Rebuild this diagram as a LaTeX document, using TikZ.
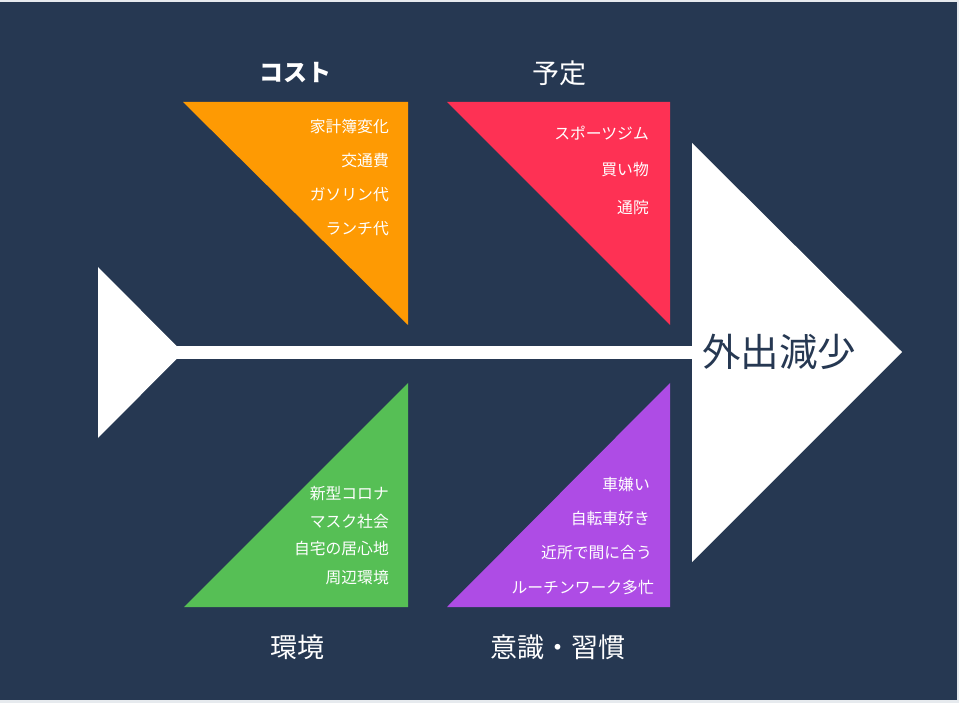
\documentclass[tikz,border=0pt]{standalone}
\usepackage{fontspec}
\setmainfont{Noto Sans CJK JP}
\newfontfamily\jpfont{Noto Sans CJK JP}
\definecolor{bgnavy}{HTML}{263852}
\definecolor{edgegrey}{HTML}{E6EAEE}
\definecolor{corange}{HTML}{FE9A03}
\definecolor{cred}{HTML}{FE3154}
\definecolor{cgreen}{HTML}{56BF55}
\definecolor{cpurple}{HTML}{AE4CE5}
\tikzset{
  item/.style={text=white, font=\jpfont\fontsize{15.8}{17}\selectfont, anchor=east, inner sep=0pt},
  cat/.style={text=white, font=\jpfont\fontsize{27}{30}\selectfont, inner sep=0pt},
  effect/.style={text=bgnavy, font=\jpfont\fontsize{38.5}{42}\selectfont, inner sep=0pt}
}
\begin{document}
\begin{tikzpicture}[x=1pt,y=-1pt]
\useasboundingbox (0,0) rectangle (959,703);
\fill[edgegrey] (0,0) rectangle (959,703);
\fill[bgnavy] (0,2) rectangle (957,700);
% spine
\fill[white] (150,346) rectangle (700,359);
\fill[white] (98,267) -- (183,352.5) -- (98,438) -- cycle;
\fill[white] (692,143) -- (902,352) -- (692,562) -- cycle;
\node[effect] (eff) at (779,352) {外出減少};
% bones
\fill[corange] (183,102) -- (408,102) -- (408,325) -- cycle;
\fill[cred] (447,102) -- (670,102) -- (670,325) -- cycle;
\fill[cgreen] (184,607) -- (408,383) -- (408,607) -- cycle;
\fill[cpurple] (447,607) -- (670,383) -- (670,607) -- cycle;
% categories
\node[cat, font=\jpfont\bfseries\fontsize{24}{28}\selectfont] (c1) at (295,73) {コスト};
\node[cat] (c2) at (559,73) {予定};
\node[cat] (c3) at (297,647) {環境};
\node[cat] (c4) at (558,647) {意識・習慣};
% items
\node[item] (a1) at (389,127) {家計簿変化};
\node[item] (a2) at (389,161) {交通費};
\node[item] (a3) at (389,195) {ガソリン代};
\node[item] (a4) at (389,229) {ランチ代};
\node[item] (b1) at (649,133) {スポーツジム};
\node[item] (b2) at (649,170) {買い物};
\node[item] (b3) at (649,208) {通院};
\node[item] (g1) at (389,494) {新型コロナ};
\node[item] (g2) at (389,522) {マスク社会};
\node[item] (g3) at (389,548) {自宅の居心地};
\node[item] (g4) at (389,578) {周辺環境};
\node[item] (p1) at (650,485) {車嫌い};
\node[item] (p2) at (650,519) {自転車好き};
\node[item] (p3) at (652,553) {近所で間に合う};
\node[item] (p4) at (654,587) {ルーチンワーク多忙};
\end{tikzpicture}
\end{document}
